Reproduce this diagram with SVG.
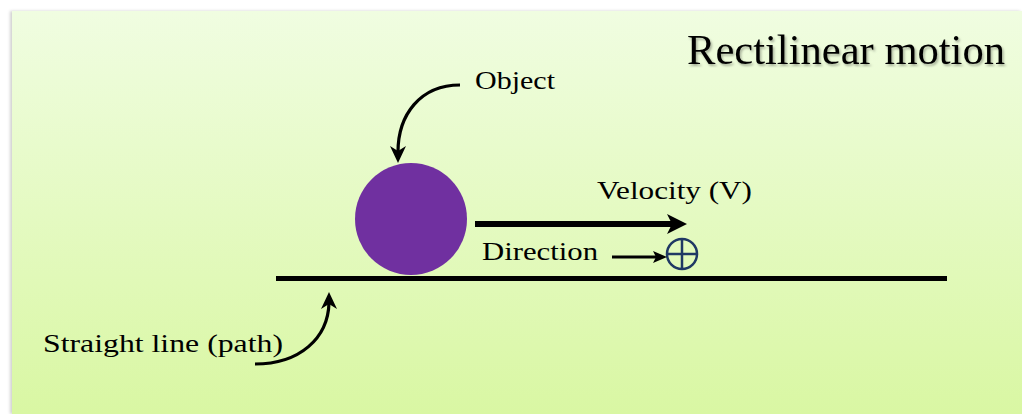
<svg xmlns="http://www.w3.org/2000/svg" width="1022" height="414" viewBox="0 0 1022 414">
  <defs>
    <linearGradient id="bg" x1="0" y1="0" x2="0" y2="1">
      <stop offset="0" stop-color="#f0fde1"/>
      <stop offset="1" stop-color="#d9f7a3"/>
    </linearGradient>
    <filter id="edge" x="-5%" y="-5%" width="110%" height="110%">
      <feDropShadow dx="-2" dy="0" stdDeviation="1.5" flood-color="#000" flood-opacity="0.18"/>
    </filter>
    <filter id="tshadow" x="-5%" y="-20%" width="110%" height="140%">
      <feDropShadow dx="1.5" dy="2" stdDeviation="1" flood-color="#000" flood-opacity="0.3"/>
    </filter>
  </defs>
  <style>
    .lbl { font-family: "Liberation Serif", "Times New Roman", serif; font-size: 26px; fill: #000; }
    .ttl { font-family: "Liberation Serif", "Times New Roman", serif; font-size: 42px; fill: #000; }
    .conn { fill: none; stroke: #000; }
    .head { fill: #000; stroke: none; }
  </style>

  <rect x="12" y="11" width="1010" height="403" fill="url(#bg)" filter="url(#edge)"/>

  <g id="title">
    <text class="ttl" x="687" y="64" textLength="318" lengthAdjust="spacingAndGlyphs" filter="url(#tshadow)">Rectilinear motion</text>
  </g>

  <g id="object">
    <circle cx="411" cy="219" r="56" fill="#7030a0"/>
    <text class="lbl" x="475" y="89" textLength="80" lengthAdjust="spacingAndGlyphs">Object</text>
  </g>

  <g id="path-line">
    <line x1="276" y1="278.5" x2="947" y2="278.5" stroke="#000" stroke-width="5"/>
    <text class="lbl" x="43" y="352" textLength="240" lengthAdjust="spacingAndGlyphs">Straight line (path)</text>
  </g>

  <g id="velocity">
    <text class="lbl" x="597" y="199" textLength="155" lengthAdjust="spacingAndGlyphs">Velocity (V)</text>
  </g>

  <g id="direction">
    <text class="lbl" x="482" y="260" textLength="116" lengthAdjust="spacingAndGlyphs">Direction</text>
    <circle cx="682" cy="254" r="15" fill="none" stroke="#1f3864" stroke-width="2.5"/>
    <line x1="667" y1="254" x2="697" y2="254" stroke="#1f3864" stroke-width="2.5"/>
    <line x1="682" y1="239" x2="682" y2="269" stroke="#1f3864" stroke-width="2.5"/>
  </g>

  <g id="connectors">
    <path class="conn" d="M460,85 C420,85 398,115 398,152" stroke-width="3.2"/>
    <path class="head" d="M398,163 L390,146 L398,151 L406,146 Z"/>
    <path class="conn" d="M255,364 C300,364 328,338 329,303" stroke-width="3.2"/>
    <path class="head" d="M329,292 L337,309 L329,304 L321,309 Z"/>
    <line class="conn" x1="475" y1="224" x2="674" y2="224" stroke-width="6"/>
    <path class="head" d="M687,224 L667,214 L672,224 L667,234 Z"/>
    <line class="conn" x1="612" y1="257" x2="657" y2="257" stroke-width="3"/>
    <path class="head" d="M667,257 L653,251 L656,257 L653,263 Z"/>
  </g>
</svg>
